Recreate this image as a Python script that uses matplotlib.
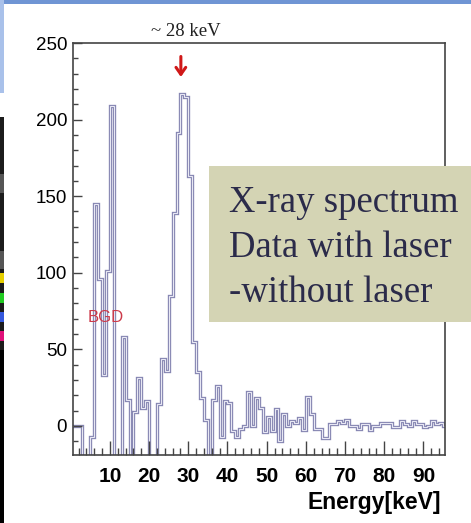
import numpy as np
import matplotlib
matplotlib.use("Agg")
import matplotlib.pyplot as plt
from matplotlib.patches import Rectangle
from matplotlib.ticker import MultipleLocator

# X-ray spectrum: (with laser) - (without laser), 1 keV bins from 0 to 96 keV
bin_edges = np.arange(0, 97)
counts = [
    0, 0, 0, -30, -30, -7, 145, 96, 33, 101,
    209, -30, -30, 58, 17, -30, 9, 31, 12, 16,
    -30, -30, 14, 44, 36, 85, 139, 191, 217, 215,
    163, 55, 35, 18, 4, -30, 17, 26, -7, 16,
    15, -3.5, -7, -2, 0, 22, 0, 18, 12, -4,
    6, -3.5, 11, -10, 8, 0, 3, 2, 5, -3,
    19, 8, -2, -2, -8, -8, 1, 1, 3, 2,
    4, 0, 0, -2, 1, 1, -3, 0, 0, 2,
    2, 2, -1, -1, 3, 1, 0, 3, 1, 1,
    -1, 0, 3, 1, 2, 0,
]
x_ticks = [10, 20, 30, 40, 50, 60, 70, 80, 90]
y_ticks = [0, 50, 100, 150, 200, 250]
box_lines = ["X-ray spectrum", "Data with laser", "-without laser"]

W, H = 471, 523
fig = plt.figure(figsize=(W / 100, H / 100), dpi=100)
fig.patch.set_facecolor("white")


def fx(px):
    return px / W


def fy(py):
    return 1 - py / H


def frect(x0, y0, x1, y1, color, z=0):
    # rectangle given in pixel coords (top-left origin)
    fig.patches.append(Rectangle((fx(x0), fy(y1)), fx(x1) - fx(x0), fy(y0) - fy(y1),
                                 transform=fig.transFigure, color=color, zorder=z, lw=0))


# slide decoration
frect(0, 0, W, 4, "#6f95d4")
frect(0, 0, 3.5, 93, "#a9c1ea")
frect(0, 117, 3.5, H, "#000000")
frect(0, 117, 3.5, 350, "#1c1c1c")
frect(0, 174, 3.5, 193, "#555555")
frect(0, 251, 3.5, 269, "#555555")
frect(0, 273, 3.5, 283, "#e6cf00")
frect(0, 293, 3.5, 303, "#22cc22")
frect(0, 312, 3.5, 322, "#3558dd")
frect(0, 331, 3.5, 341, "#e0107a")

ax = fig.add_axes([fx(72.7), fy(455), fx(445) - fx(72.7), fy(43) - fy(455)])
ax.stairs(counts, bin_edges, baseline=None, color="#8686b2", lw=2.4)
ax.stairs(counts, bin_edges, baseline=None, color="#e8e8f4", lw=0.8)

ax.set_xlim(0.5, 95.5)
ax.set_ylim(-19, 250)
ax.set_xticks(x_ticks)
ax.set_yticks(y_ticks)
ax.xaxis.set_minor_locator(MultipleLocator(2))
ax.yaxis.set_minor_locator(MultipleLocator(10))
ax.tick_params(axis="both", which="both", direction="in", top=False, right=False,
               color="#444444", width=1.0)
ax.tick_params(axis="x", which="major", length=10, pad=9)
ax.tick_params(axis="x", which="minor", length=5)
ax.tick_params(axis="y", which="major", length=6.5, pad=4)
ax.tick_params(axis="y", which="minor", length=3.6)
for lab in ax.get_xticklabels():
    lab.set_fontfamily("Liberation Sans")
    lab.set_fontweight("bold")
    lab.set_fontsize(15)
for lab in ax.get_yticklabels():
    lab.set_fontfamily("Liberation Sans")
    lab.set_fontsize(13.5)
for sp in ax.spines.values():
    sp.set_color("#444444")
    sp.set_linewidth(1.2)

ax.annotate("", xy=(28.1, 226), xytext=(28.1, 243),
            arrowprops=dict(arrowstyle="->,head_length=0.5,head_width=0.35",
                            color="#d01818", lw=2.2))
ax.text(9.0, 70.7, "BGD", color="#cc3a4a", fontsize=12, family="Liberation Sans",
        ha="center", va="center")

fig.text(fx(186), fy(31), "~ 28 keV", family="Liberation Serif", fontsize=13.5,
         ha="center", va="center", color="#222222")
fig.text(fx(441), fy(502), "Energy[keV]", family="Liberation Sans", fontweight="bold",
         fontsize=16.5, ha="right", va="center")

# khaki annotation box
frect(209, 166, W, 322, "#d4d4b4", z=5)
for i, line in enumerate(box_lines):
    fig.text(fx(229), fy(211.7 + 45 * i), line, family="Liberation Serif", fontsize=26.5,
             color="#2b2b4a", ha="left", va="baseline", zorder=6)

fig.savefig("out.png", dpi=100)
